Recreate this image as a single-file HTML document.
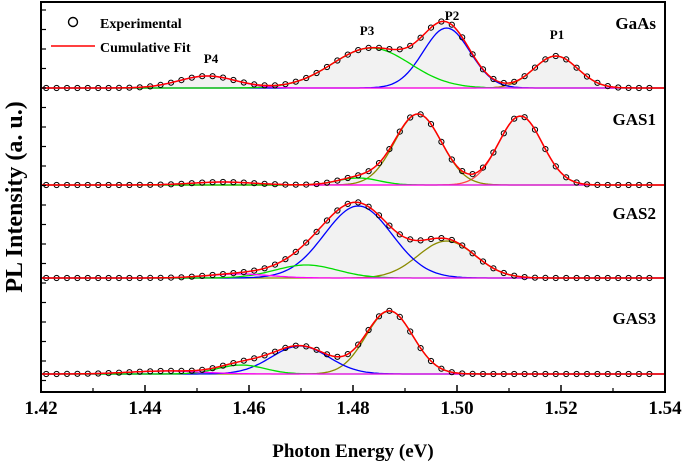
<!DOCTYPE html>
<html><head><meta charset="utf-8"><style>
body{margin:0;background:#fff}
svg{display:block;font-family:"Liberation Serif",serif;font-weight:bold}
</style></head><body>
<svg id="chart" width="685" height="465" viewBox="0 0 685 465" xmlns="http://www.w3.org/2000/svg">
<g id="plot"></g>
<rect x="41" y="2" width="624" height="390" fill="none" stroke="#000" stroke-width="2"/>
<g id="axes"></g>
<text transform="translate(22,197) rotate(-90)" text-anchor="middle" font-size="24">PL Intensity (a. u.)</text>
<text x="353" y="457" text-anchor="middle" font-size="19">Photon Energy (eV)</text>
<g>
<circle cx="73" cy="22" r="4.5" fill="none" stroke="#000" stroke-width="1.4"/>
<text x="100" y="28" font-size="14">Experimental</text>
<line x1="51" y1="46" x2="95" y2="46" stroke="#f00" stroke-width="1.5"/>
<text x="100" y="52" font-size="14">Cumulative Fit</text>
</g>
<text x="557" y="39" text-anchor="middle" font-size="13">P1</text>
<text x="452" y="20" text-anchor="middle" font-size="13">P2</text>
<text x="367" y="35" text-anchor="middle" font-size="13">P3</text>
<text x="211" y="63" text-anchor="middle" font-size="13">P4</text>
</svg>
<script>
const xTicks=[1.42,1.44,1.46,1.48,1.50,1.52,1.54];
const sampleNames=["GaAs","GAS1","GAS2","GAS3"];
const baselines=[88,185,278,374];
const centersGaAs=[1.519,1.498,1.4835,1.452];
const heightsGaAs=[32,60,40,12];
const sigmaGaAs=[0.0042,0.0045,0.0075,0.0055];
const colorsGaAs=["#b8860b","#0000ff","#00dd00","#ff00ff"];
const centersGAS1=[1.5122,1.4925,1.481,1.455];
const heightsGAS1=[69,71,7,3];
const sigmaGAS1=[0.0042,0.0045,0.004,0.006];
const colorsGAS1=["#ff4444","#8b8b00","#00dd00","#ff00ff"];
const centersGAS2=[1.498,1.481,1.471,1.458];
const heightsGAS2=[37,72,13,4];
const sigmaGAS2=[0.0055,0.0065,0.006,0.006];
const colorsGAS2=["#8b8b00","#0000ff","#00dd00","#ff00ff"];
const centersGAS3=[1.487,1.4698,1.4585,1.444];
const heightsGAS3=[63,28,9,3];
const sigmaGAS3=[0.0045,0.0055,0.0045,0.007];
const colorsGAS3=["#8b8b00","#0000ff","#00dd00","#ff00ff"];
const panels=[[centersGaAs,heightsGaAs,sigmaGaAs,colorsGaAs],[centersGAS1,heightsGAS1,sigmaGAS1,colorsGAS1],[centersGAS2,heightsGAS2,sigmaGAS2,colorsGAS2],[centersGAS3,heightsGAS3,sigmaGAS3,colorsGAS3]];
const labelY=[29,125,219,324];

const NS="http://www.w3.org/2000/svg";
const X0=41,X1=665,E0=1.42,E1=1.54;
const xs=e=>X0+(e-E0)/(E1-E0)*(X1-X0);
function mk(t,a,p){const el=document.createElementNS(NS,t);for(const k in a)el.setAttribute(k,a[k]);p.appendChild(el);return el;}
const plot=document.getElementById("plot"),axes=document.getElementById("axes");
const g=(e,c,h,s)=>h*Math.exp(-((e-c)**2)/(2*s*s));
panels.forEach((p,i)=>{
  const [c,h,s,col]=p,b=baselines[i];
  const grp=mk("g",{},plot);
  
  
  const es=[];for(let e=E0;e<=E1+1e-9;e+=0.0005)es.push(e);
  const tot=e=>c.reduce((a,cc,j)=>a+g(e,cc,h[j],s[j]),0);
  let d="M"+xs(E0)+","+b;es.forEach(e=>d+="L"+xs(e).toFixed(1)+","+(b-tot(e)).toFixed(1));d+="L"+xs(E1)+","+b+"Z";
  const f=mk("path",{d,fill:"#f2f2f2",stroke:"none"},grp);
  
  
  c.forEach((cc,j)=>{
    let dd="";es.forEach((e,k)=>dd+=(k?"L":"M")+xs(e).toFixed(1)+","+(b-g(e,cc,h[j],s[j])).toFixed(1));
    const pe=mk("path",{d:dd,fill:"none",stroke:col[j],"stroke-width":1.3},grp);
    
    
  });
  for(let e=1.421;e<=1.539;e+=0.002){
    const ci=mk("circle",{cx:xs(e).toFixed(1),cy:(b-tot(e)).toFixed(1),r:2.6,fill:"none",stroke:"#000","stroke-width":1},grp);
    
    
  }
  let dt="";es.forEach((e,k)=>dt+=(k?"L":"M")+xs(e).toFixed(1)+","+(b-tot(e)).toFixed(1));
  const cf=mk("path",{d:dt,fill:"none",stroke:"#f00","stroke-width":1.5},grp);
  
  
  const lt=mk("text",{x:656,y:labelY[i],"text-anchor":"end","font-size":17},grp);
  lt.textContent=sampleNames[i];
  
  
});
xTicks.forEach((t,i)=>{
  const x=xs(t);
  const tk=mk("line",{x1:x,y1:392,x2:x,y2:385,stroke:"#000","stroke-width":1.5},axes);
  
  
  if(i<xTicks.length-1){const xm=xs(t+0.01);
    const mt=mk("line",{x1:xm,y1:392,x2:xm,y2:388,stroke:"#000","stroke-width":1.2},axes);
    
    }
  const tl=mk("text",{x,y:414,"text-anchor":"middle","font-size":19},axes);
  tl.textContent=t.toFixed(2);
  
  
});
for(let y=10;y<392;y+=19.5){
  const yt=mk("line",{x1:41,y1:y,x2:46,y2:y,stroke:"#000","stroke-width":1.2},axes);
  
  
}
</script>
</body></html>
